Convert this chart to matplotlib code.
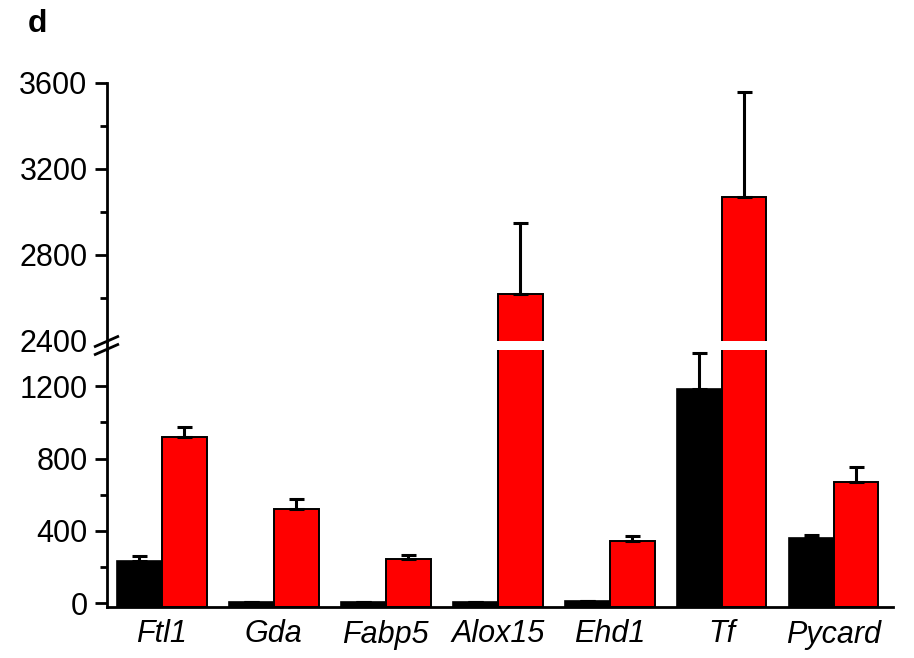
import numpy as np
import matplotlib
matplotlib.use('Agg')
import matplotlib.pyplot as plt
from matplotlib.lines import Line2D

plt.rcParams['font.family'] = ['Liberation Sans', 'DejaVu Sans']

genes = ['Ftl1', 'Gda', 'Fabp5', 'Alox15', 'Ehd1', 'Tf', 'Pycard']
black_vals = [235, 10, 10, 5, 12, 1185, 360]
black_err = [27, 0, 0, 0, 0, 200, 17]
red_vals = [920, 520, 245, 2620, 345, 3070, 673]
red_err = [55, 55, 25, 330, 25, 490, 80]

low_lim = (-20, 1400)
up_lim = (2400, 3600)

W, H = 914, 658
fig = plt.figure(figsize=(W / 100, H / 100), dpi=100)

def fy(px):
    return 1 - px / H

left = 107 / W
width = (893 - 107) / W
ax_low = fig.add_axes([left, fy(607), width, fy(350) - fy(607)])
ax_up = fig.add_axes([left, fy(341), width, fy(83) - fy(341)])

x = np.arange(len(genes))
bw = 0.4
base = low_lim[0]
lw_ax = 2.0

for ax in (ax_low, ax_up):
    ax.bar(x - bw / 2, np.array(black_vals) - base, bw, bottom=base,
           color='black', edgecolor='black', linewidth=1.2)
    ax.bar(x + bw / 2, np.array(red_vals) - base, bw, bottom=base,
           color='#ff0000', edgecolor='black', linewidth=1.4)
    ax.errorbar(x - bw / 2, black_vals, yerr=[np.zeros(len(x)), black_err],
                fmt='none', ecolor='black', elinewidth=2.2, capsize=5.4, capthick=2.2)
    ax.errorbar(x + bw / 2, red_vals, yerr=[np.zeros(len(x)), red_err],
                fmt='none', ecolor='black', elinewidth=2.2, capsize=5.4, capthick=2.2)
    ax.set_xlim(-0.49, 6.53)
    for s in ('top', 'right'):
        ax.spines[s].set_visible(False)
    ax.spines['left'].set_linewidth(lw_ax)
    ax.spines['bottom'].set_linewidth(lw_ax)
    ax.tick_params(axis='y', which='major', length=9, width=lw_ax, labelsize=22, pad=5)
    ax.tick_params(axis='y', which='minor', length=5, width=lw_ax)

ax_low.set_ylim(*low_lim)
ax_low.set_yticks([0, 400, 800, 1200])
ax_low.set_yticks([200, 600, 1000], minor=True)
ax_low.set_xticks(x)
ax_low.set_xticklabels(genes, fontsize=22, style='italic')
ax_low.tick_params(axis='x', length=0, pad=9)

ax_up.set_ylim(*up_lim)
ax_up.set_yticks([2400, 2800, 3200, 3600])
ax_up.set_yticks([2600, 3000, 3400], minor=True)
ax_up.spines['bottom'].set_visible(False)
ax_up.set_xticks([])
ax_up.yaxis.get_major_ticks()[0].tick1line.set_visible(False)

# continuous spine through the break, plus the break marks
def fline(x0, y0, x1, y1, lw=lw_ax):
    fig.add_artist(Line2D([x0 / W, x1 / W], [fy(y0), fy(y1)], color='black',
                          linewidth=lw, solid_capstyle='butt'))

fline(107, 340, 107, 351)
fline(94, 347, 119, 336)
fline(94, 355, 119, 344)

fig.text(37 / W, fy(24), 'd', fontsize=23, fontweight='bold', ha='center', va='center')

fig.savefig('out.png', dpi=100)
